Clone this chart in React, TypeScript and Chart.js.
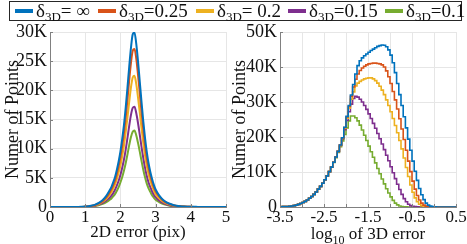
import React, { useEffect, useRef } from "react";
import { Chart, registerables } from "chart.js";
Chart.register(...registerables);

const COLORS = ["#0072BD", "#D95319", "#EDB120", "#7E2F8E", "#77AC30"];
const legendValues = ["= \u221E", "=0.25", "= 0.2", "=0.15", "=0.1"];
const legendLeft = [15, 98, 196, 288, 385];

// 2D error (pix), values in K
const x2D = [
  0, 0.1, 0.2, 0.3, 0.4, 0.5, 0.6, 0.7, 0.8, 0.9, 1.0, 1.1, 1.2, 1.3, 1.4, 1.5, 1.6, 1.7,
  1.75, 1.8, 1.85, 1.9, 1.95, 2.0, 2.05, 2.1, 2.15, 2.2, 2.25, 2.3, 2.35, 2.4, 2.45,
  2.5, 2.55, 2.6, 2.65, 2.7, 2.75, 2.8, 2.85, 2.9, 2.95, 3.0,
  3.1, 3.2, 3.3, 3.4, 3.5, 3.6, 3.7, 3.8, 3.9, 4.0, 4.1, 4.2, 4.3, 4.4, 4.5, 4.6, 4.7, 4.8, 4.9, 5.0,
];
const err2D_inf = [
  0, 0, 0, 0, 0, 0, 0, 0, 0, 0.03, 0.08, 0.15, 0.25, 0.45, 0.75, 1.2, 1.9, 2.9,
  3.5, 4.3, 5.2, 6.4, 7.8, 9.5, 11.6, 14.0, 17.0, 20.4, 24.0, 27.3, 29.6, 29.9, 28.0,
  25.0, 21.5, 18.0, 14.7, 11.8, 9.4, 7.5, 6.0, 4.8, 3.8, 3.0,
  2.0, 1.3, 0.85, 0.55, 0.35, 0.22, 0.14, 0.09, 0.06, 0.04, 0.03, 0.02, 0.01, 0.01, 0.01, 0, 0, 0, 0, 0,
];
const err2D_025 = [
  0, 0, 0, 0, 0, 0, 0, 0, 0, 0.02, 0.06, 0.12, 0.2, 0.38, 0.65, 1.05, 1.65, 2.55,
  3.1, 3.8, 4.6, 5.7, 7.0, 8.5, 10.4, 12.6, 15.3, 18.4, 21.7, 24.7, 26.8, 27.1, 25.5,
  22.7, 19.5, 16.3, 13.3, 10.6, 8.4, 6.7, 5.4, 4.3, 3.4, 2.7,
  1.8, 1.15, 0.75, 0.48, 0.3, 0.19, 0.12, 0.08, 0.05, 0.03, 0.02, 0.02, 0.01, 0.01, 0, 0, 0, 0, 0, 0,
];
const err2D_02 = [
  0, 0, 0, 0, 0, 0, 0, 0, 0, 0.02, 0.05, 0.1, 0.17, 0.32, 0.55, 0.9, 1.4, 2.15,
  2.6, 3.2, 3.9, 4.8, 5.9, 7.1, 8.7, 10.5, 12.8, 15.3, 18.0, 20.5, 22.2, 22.5, 21.1,
  18.8, 16.2, 13.5, 11.0, 8.8, 7.0, 5.6, 4.5, 3.6, 2.8, 2.2,
  1.5, 0.95, 0.62, 0.4, 0.25, 0.16, 0.1, 0.07, 0.04, 0.03, 0.02, 0.01, 0.01, 0, 0, 0, 0, 0, 0, 0,
];
const err2D_015 = [
  0, 0, 0, 0, 0, 0, 0, 0, 0, 0.01, 0.04, 0.08, 0.14, 0.26, 0.44, 0.7, 1.1, 1.65,
  2.0, 2.45, 3.0, 3.7, 4.5, 5.5, 6.7, 8.1, 9.8, 11.8, 13.9, 15.8, 17.0, 17.2, 16.1,
  14.4, 12.4, 10.3, 8.4, 6.7, 5.3, 4.2, 3.4, 2.7, 2.1, 1.7,
  1.1, 0.72, 0.47, 0.3, 0.19, 0.12, 0.08, 0.05, 0.03, 0.02, 0.01, 0.01, 0, 0, 0, 0, 0, 0, 0, 0,
];
const err2D_01 = [
  0, 0, 0, 0, 0, 0, 0, 0, 0, 0.01, 0.03, 0.06, 0.1, 0.19, 0.33, 0.53, 0.83, 1.25,
  1.5, 1.85, 2.25, 2.8, 3.4, 4.2, 5.1, 6.2, 7.5, 9.0, 10.6, 12.0, 12.9, 13.1, 12.3,
  11.0, 9.5, 7.9, 6.4, 5.1, 4.0, 3.2, 2.6, 2.0, 1.6, 1.25,
  0.85, 0.55, 0.36, 0.23, 0.15, 0.09, 0.06, 0.04, 0.02, 0.01, 0.01, 0, 0, 0, 0, 0, 0, 0, 0, 0,
];

// log10 of 3D error histogram bins, values in K
const x3D = [
  -3.5, -3.45, -3.4, -3.35, -3.3, -3.25, -3.2, -3.15, -3.1, -3.05,
  -3, -2.95, -2.9, -2.85, -2.8, -2.75, -2.7, -2.65, -2.6, -2.55,
  -2.5, -2.45, -2.4, -2.35, -2.3, -2.25, -2.2, -2.15, -2.1, -2.05,
  -2, -1.95, -1.9, -1.85, -1.8, -1.75, -1.7, -1.65, -1.6, -1.55,
  -1.5, -1.45, -1.4, -1.35, -1.3, -1.25, -1.2, -1.15, -1.1, -1.05,
  -1, -0.95, -0.9, -0.85, -0.8, -0.75, -0.7, -0.65, -0.6, -0.55,
  -0.5, -0.45, -0.4, -0.35, -0.3, -0.25, -0.2, -0.15, -0.1, -0.05,
  0, 0.05, 0.1, 0.15, 0.2, 0.25, 0.3, 0.35, 0.4, 0.45, 0.5,
];
const err3D_inf = [
  0.05, 0.05, 0.1, 0.1, 0.15, 0.2, 0.3, 0.4, 0.55, 0.75,
  1.0, 1.3, 1.6, 2.0, 2.5, 3.0, 3.6, 4.3, 5.1, 5.9,
  6.8, 7.8, 8.9, 10.1, 11.4, 12.8, 14.3, 15.9, 17.7, 19.8,
  22.8, 25.9, 29.0, 32.0, 35.0, 38.0, 40.4, 41.8, 42.6, 43.2,
  43.7, 44.2, 44.7, 45.1, 45.5, 45.9, 46.1, 46.3, 46.2, 45.8,
  44.9, 43.4, 41.2, 38.4, 35.3, 32.1, 29.0, 25.8, 22.6, 19.4,
  16.2, 13.1, 10.2, 7.6, 5.3, 3.5, 2.1, 1.1, 0.55, 0.25,
  0.1, 0.05, 0.02, 0.01, 0, 0, 0, 0, 0, 0, 0,
];
const err3D_025 = [
  0.05, 0.05, 0.1, 0.1, 0.15, 0.2, 0.3, 0.4, 0.55, 0.75,
  1.0, 1.3, 1.6, 2.0, 2.5, 3.0, 3.6, 4.3, 5.1, 5.9,
  6.8, 7.8, 8.9, 10.1, 11.4, 12.8, 14.3, 15.9, 17.7, 19.8,
  22.7, 25.7, 28.7, 31.6, 34.3, 36.5, 38.0, 39.0, 39.7, 40.2,
  40.6, 40.9, 41.0, 41.1, 41.1, 41.0, 40.9, 40.6, 40.0, 38.9,
  37.2, 35.3, 33.0, 30.6, 28.0, 25.2, 22.3, 19.3, 16.2, 13.1,
  10.1, 7.4, 5.1, 3.3, 2.0, 1.1, 0.55, 0.25, 0.1, 0.05,
  0.02, 0.01, 0, 0, 0, 0, 0, 0, 0, 0, 0,
];
const err3D_02 = [
  0.05, 0.05, 0.1, 0.1, 0.15, 0.2, 0.3, 0.4, 0.55, 0.75,
  1.0, 1.3, 1.6, 2.0, 2.5, 3.0, 3.6, 4.3, 5.1, 5.9,
  6.8, 7.8, 8.9, 10.1, 11.4, 12.8, 14.3, 15.9, 17.6, 19.7,
  22.5, 25.4, 28.2, 30.8, 32.9, 34.6, 35.4, 35.9, 36.3, 36.6,
  36.8, 36.9, 36.9, 36.6, 36.1, 35.4, 34.5, 33.4, 32.1, 30.6,
  29.0, 27.2, 25.3, 23.3, 21.2, 19.0, 16.6, 14.0, 11.3, 8.7,
  6.3, 4.2, 2.6, 1.5, 0.8, 0.4, 0.2, 0.1, 0.05, 0.02,
  0.01, 0, 0, 0, 0, 0, 0, 0, 0, 0, 0,
];
const err3D_015 = [
  0.05, 0.05, 0.1, 0.1, 0.15, 0.2, 0.3, 0.4, 0.55, 0.75,
  1.0, 1.3, 1.6, 2.0, 2.5, 3.0, 3.6, 4.3, 5.1, 5.9,
  6.8, 7.8, 8.9, 10.1, 11.4, 12.8, 14.3, 15.9, 17.6, 19.5,
  22.1, 24.7, 27.2, 29.4, 31.0, 31.6, 31.4, 30.8, 30.0, 29.0,
  27.9, 26.6, 25.3, 23.9, 22.5, 21.0, 19.5, 18.0, 16.4, 14.8,
  13.2, 11.5, 9.8, 8.1, 6.5, 5.0, 3.6, 2.4, 1.5, 0.8,
  0.4, 0.2, 0.1, 0.05, 0.02, 0.01, 0, 0, 0, 0,
  0, 0, 0, 0, 0, 0, 0, 0, 0, 0, 0,
];
const err3D_01 = [
  0.05, 0.05, 0.1, 0.1, 0.15, 0.2, 0.3, 0.4, 0.55, 0.75,
  1.0, 1.3, 1.6, 2.0, 2.5, 3.0, 3.6, 4.3, 5.1, 5.9,
  6.8, 7.8, 8.9, 10.1, 11.4, 12.7, 14.1, 15.6, 17.2, 18.9,
  20.7, 22.6, 24.6, 26.0, 26.0, 25.5, 24.6, 23.4, 22.0, 20.5,
  19.0, 17.4, 15.8, 14.2, 12.6, 11.0, 9.5, 8.0, 6.6, 5.2,
  4.0, 2.9, 1.9, 1.1, 0.6, 0.3, 0.15, 0.07, 0.03, 0.01,
  0, 0, 0, 0, 0, 0, 0, 0, 0, 0,
  0, 0, 0, 0, 0, 0, 0, 0, 0, 0, 0,
];

const yTicks2D = [0, 5, 10, 15, 20, 25, 30];
const yTicks3D = [0, 10, 20, 30, 40, 50];
const xLabels3D = [-3.5, -2.5, -1.5, -0.5, 0.5];

const FONT = '"Liberation Serif", "Times New Roman", serif';
const AXIS_COLOR = "#808080";
const GRID_COLOR = "#e6e6e6";
const TEXT_COLOR = "#111111";

const innerTicks = {
  id: "innerTicks",
  afterDatasetsDraw(chart: any) {
    const { ctx, chartArea: a, scales } = chart;
    ctx.save();
    ctx.strokeStyle = AXIS_COLOR;
    ctx.lineWidth = 1;
    ctx.beginPath();
    scales.x.ticks.forEach((t: any) => {
      const px = Math.round(scales.x.getPixelForValue(t.value)) + 0.5;
      ctx.moveTo(px, a.bottom);
      ctx.lineTo(px, a.bottom - 3);
    });
    scales.y.ticks.forEach((t: any) => {
      const py = Math.round(scales.y.getPixelForValue(t.value)) + 0.5;
      ctx.moveTo(a.left, py);
      ctx.lineTo(a.left + 3, py);
    });
    ctx.stroke();
    ctx.restore();
  },
};

const logTitle = {
  id: "logTitle",
  afterDraw(chart: any, _args: any, opts: any) {
    if (!opts || !opts.display) return;
    const { ctx, chartArea: a } = chart;
    ctx.save();
    ctx.fillStyle = TEXT_COLOR;
    ctx.textBaseline = "alphabetic";
    ctx.textAlign = "left";
    const main = `17px ${FONT}`;
    const sub = `12px ${FONT}`;
    const p1 = "log";
    const p2 = "10";
    const p3 = " of 3D error";
    ctx.font = main;
    const w1 = ctx.measureText(p1).width;
    const w3 = ctx.measureText(p3).width;
    ctx.font = sub;
    const w2 = ctx.measureText(p2).width;
    const total = w1 + w2 + w3;
    let x = (a.left + a.right) / 2 - total / 2;
    const base = opts.baseline;
    ctx.font = main;
    ctx.fillText(p1, x, base);
    x += w1;
    ctx.font = sub;
    ctx.fillText(p2, x, base + 5);
    x += w2;
    ctx.font = main;
    ctx.fillText(p3, x, base);
    ctx.restore();
  },
};

function makeConfig(kind: "2d" | "3d"): any {
  const is2D = kind === "2d";
  const xs = is2D ? x2D : x3D;
  const series = is2D
    ? [err2D_inf, err2D_025, err2D_02, err2D_015, err2D_01]
    : [err3D_inf, err3D_025, err3D_02, err3D_015, err3D_01];
  const datasets = series.map((vals, i) => ({
    data: xs.map((x, j) => ({ x, y: vals[j] })),
    borderColor: COLORS[i],
    backgroundColor: COLORS[i],
    borderWidth: is2D ? 2 : 1.6,
    pointRadius: 0,
    fill: false,
    stepped: is2D ? false : "after",
    cubicInterpolationMode: is2D ? "monotone" : "default",
    tension: 0,
  }));
  const yTicks = is2D ? yTicks2D : yTicks3D;
  return {
    type: "line",
    data: { datasets },
    plugins: [innerTicks, logTitle],
    options: {
      animation: false,
      responsive: false,
      maintainAspectRatio: false,
      layout: { padding: { left: 0, right: is2D ? 7 : 11, top: 32, bottom: 0 } },
      plugins: {
        legend: { display: false },
        tooltip: { enabled: false },
        logTitle: { display: !is2D, baseline: 239 },
      },
      scales: {
        x: {
          type: "linear",
          min: is2D ? 0 : -3.5,
          max: is2D ? 5 : 0.5,
          afterFit: (s: any) => {
            s.height = 37;
          },
          afterBuildTicks: (s: any) => {
            const arr: any[] = [];
            if (is2D) {
              for (let v = 0; v <= 5; v++) arr.push({ value: v });
            } else {
              for (let k = 0; k <= 8; k++) arr.push({ value: -3.5 + k * 0.5 });
            }
            s.ticks = arr;
          },
          ticks: {
            autoSkip: false,
            maxRotation: 0,
            padding: 0,
            color: TEXT_COLOR,
            font: { family: FONT, size: 17 },
            callback: (v: number) => {
              if (is2D) return String(v);
              const r = Math.round(v * 10) / 10;
              return xLabels3D.some((l) => Math.abs(l - r) < 1e-6) ? String(r) : "";
            },
          },
          grid: { color: GRID_COLOR, drawTicks: false },
          border: { display: true, color: AXIS_COLOR, width: 1 },
          title: {
            display: is2D,
            text: "2D error (pix)",
            color: TEXT_COLOR,
            font: { family: FONT, size: 17 },
            padding: { top: 0, bottom: 1 },
          },
        },
        y: {
          type: "linear",
          min: 0,
          max: is2D ? 30 : 50,
          afterFit: (s: any) => {
            s.width = is2D ? 50 : 51;
          },
          afterBuildTicks: (s: any) => {
            s.ticks = yTicks.map((v) => ({ value: v }));
          },
          ticks: {
            padding: 3,
            color: TEXT_COLOR,
            font: { family: FONT, size: 18 },
            callback: (v: number) => (v === 0 ? "0" : `${v}K`),
          },
          grid: { color: GRID_COLOR, drawTicks: false },
          border: { display: true, color: AXIS_COLOR, width: 1 },
          title: {
            display: true,
            text: "Numer of Points",
            color: TEXT_COLOR,
            font: { family: FONT, size: 18 },
            padding: { top: is2D ? 2 : 0, bottom: 0 },
          },
        },
      },
    },
  };
}

function ChartCanvas({ kind, left, width }: { kind: "2d" | "3d"; left: number; width: number }) {
  const ref = useRef<HTMLCanvasElement | null>(null);
  useEffect(() => {
    if (!ref.current) return;
    const chart = new Chart(ref.current, makeConfig(kind));
    return () => chart.destroy();
  }, [kind]);
  return (
    <canvas
      ref={ref}
      width={width}
      height={244}
      style={{ position: "absolute", left, top: 0, width, height: 244 }}
    />
  );
}

export default function App() {
  return (
    <div
      style={{
        position: "absolute",
        left: 0,
        top: 0,
        width: 467,
        height: 244,
        background: "#ffffff",
        overflow: "hidden",
        fontFamily: FONT,
      }}
    >
      <ChartCanvas kind="2d" left={0} width={233} />
      <ChartCanvas kind="3d" left={229} width={238} />
      <div
        style={{
          position: "absolute",
          left: 9,
          top: 1,
          width: 453,
          height: 20,
          border: "1px solid #262626",
          boxSizing: "border-box",
          background: "#ffffff",
        }}
      >
        {legendValues.map((v, i) => (
          <div
            key={i}
            style={{
              position: "absolute",
              left: legendLeft[i] - 10,
              top: 0,
              height: 18,
              display: "flex",
              alignItems: "center",
              whiteSpace: "nowrap",
              color: TEXT_COLOR,
              fontSize: 19,
              lineHeight: "18px",
            }}
          >
            <span
              style={{
                display: "inline-block",
                width: 18,
                height: 4,
                background: COLORS[i],
                marginRight: 3,
              }}
            />
            <span>
              {"\u03B4"}
              <sub style={{ fontSize: 13, lineHeight: 0, verticalAlign: "-4px" }}>3D</sub>
              {v}
            </span>
          </div>
        ))}
      </div>
    </div>
  );
}
